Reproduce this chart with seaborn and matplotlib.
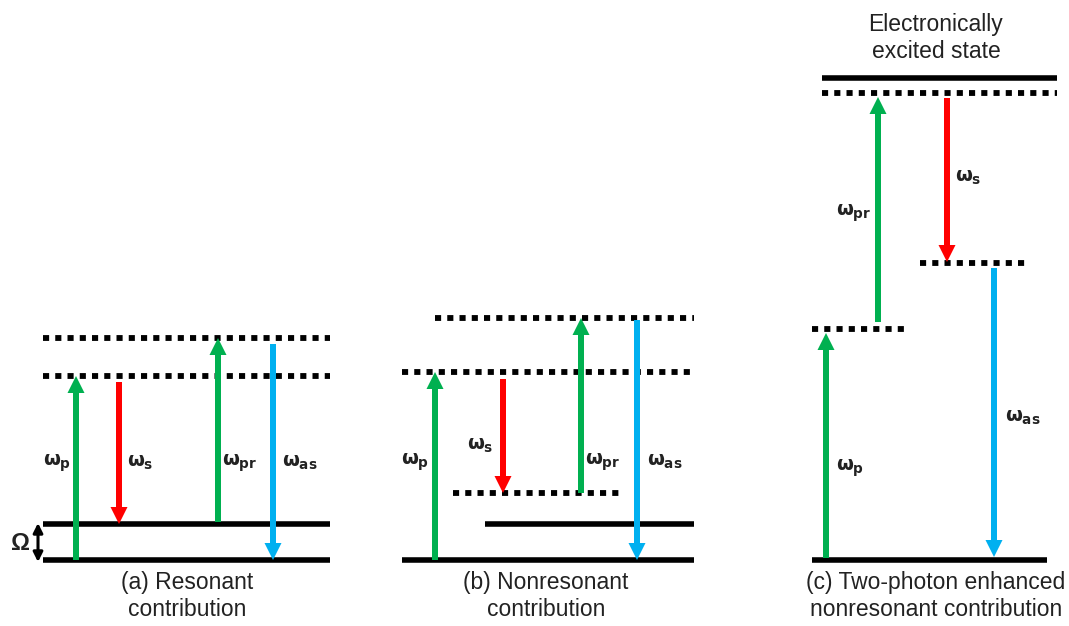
import matplotlib
matplotlib.use("Agg")
import matplotlib.pyplot as plt
import seaborn as sns

# energy level diagram, coordinates in image pixels (y grows downward)
solid_x0 = [43, 43, 402, 485, 812, 822]
solid_x1 = [330, 330, 694, 694, 1047, 1057]
solid_y = [560, 524, 560, 524, 560, 78]

dotted_x0 = [43, 43, 402, 435, 453, 822, 812, 920]
dotted_x1 = [330, 330, 694, 694, 623, 1057, 910, 1027]
dotted_y = [376, 338, 372, 318, 493, 93, 329, 263]

arrow_x = [76, 119, 218, 273, 435, 503, 581, 637, 826, 878, 947, 994]
arrow_from = [560, 382, 522, 344, 560, 379, 493, 320, 558, 322, 98, 268]
arrow_to = [376, 524, 338, 560, 372, 493, 318, 560, 333, 97, 262, 557]
arrow_color = ["#00B050", "#FF0000", "#00B050", "#00B0F0",
               "#00B050", "#FF0000", "#00B050", "#00B0F0",
               "#00B050", "#00B050", "#FF0000", "#00B0F0"]

label_x = [43, 127, 222, 282, 401, 467, 585, 647, 836, 836, 955, 1005]
label_y = [463, 463, 463, 463, 462, 446, 462, 462, 468, 213, 178, 418]
label_sub = ["p", "s", "pr", "as", "p", "s", "pr", "as", "p", "pr", "s", "as"]

captions = ["(a) Resonant\ncontribution", "(b) Nonresonant\ncontribution",
            "(c) Two-photon enhanced\nnonresonant contribution"]
caption_x = [187, 546, 936]
caption_y = 596

sns.set_theme(style="white")
plt.rcParams["font.family"] = ["Liberation Sans", "DejaVu Sans"]
plt.rcParams["mathtext.fontset"] = "custom"
plt.rcParams["mathtext.rm"] = "DejaVu Sans:bold"
plt.rcParams["mathtext.it"] = "DejaVu Sans:bold"
plt.rcParams["mathtext.bf"] = "DejaVu Sans:bold"

fig = plt.figure(figsize=(10.69, 6.26), dpi=100)
ax = fig.add_axes([0, 0, 1, 1])
ax.set_xlim(0, 1069)
ax.set_ylim(626, 0)
ax.axis("off")

ax.hlines(solid_y, solid_x0, solid_x1, color="black", lw=4.0, zorder=2)
for x0, x1, y in zip(dotted_x0, dotted_x1, dotted_y):
    ax.plot([x0, x1], [y, y], color="black", lw=4.2,
            linestyle=(0, (1.05, 1.05)), dash_capstyle="butt", zorder=2)

for x, y0, y1, c in zip(arrow_x, arrow_from, arrow_to, arrow_color):
    ax.arrow(x, y0, 0, y1 - y0, width=6, head_width=17, head_length=17,
             length_includes_head=True, color=c, lw=0, zorder=3)

for x, y, s in zip(label_x, label_y, label_sub):
    ax.text(x, y, r"$\omega_{%s}$" % s, fontsize=14, ha="left", va="center",
            color="#222222")

# Omega spacing marker
ax.annotate("", xy=(38, 523), xytext=(38, 562),
            arrowprops=dict(arrowstyle="<|-|>", color="black", lw=2.2,
                            mutation_scale=14, shrinkA=0, shrinkB=0))
ax.text(20, 543, "Ω", fontsize=17, fontweight="bold", ha="center",
        va="center", color="#222222")

for t, x in zip(captions, caption_x):
    ax.text(x, caption_y, t, fontsize=16.5, ha="center", va="center",
            linespacing=1.2, color="#222222")

ax.text(936, 38, "Electronically\nexcited state", fontsize=16.5,
        ha="center", va="center", linespacing=1.2, color="#222222")

fig.savefig("out.png", dpi=100)
